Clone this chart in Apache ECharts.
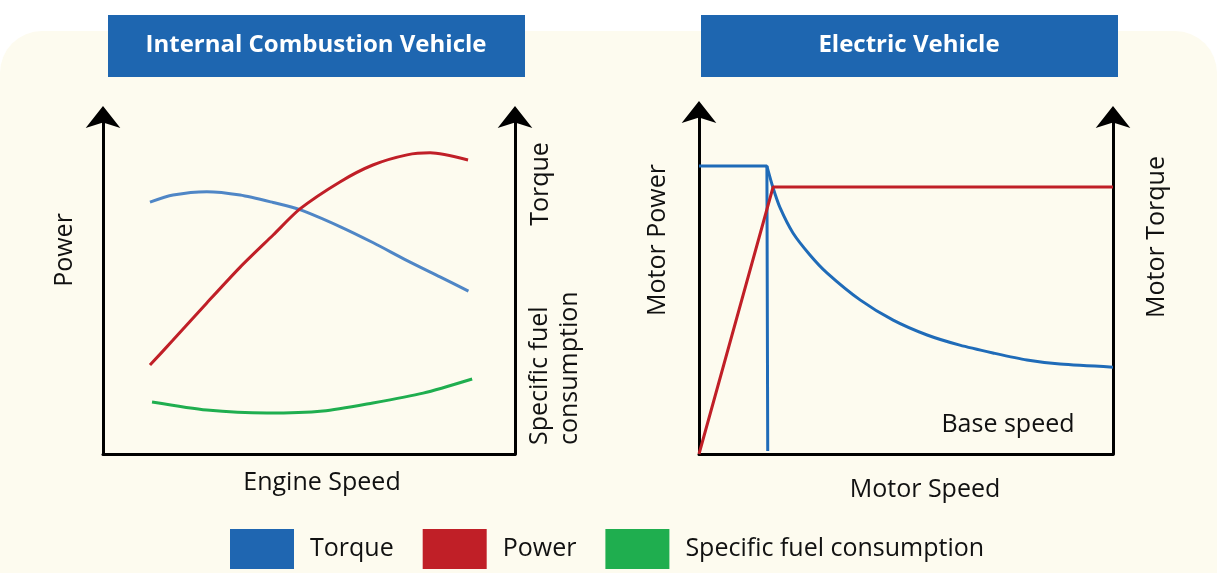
<!DOCTYPE html>
<html>
<head>
<meta charset="utf-8">
<title>ICE vs EV characteristics</title>
<script src="https://cdn.jsdelivr.net/npm/echarts@6/dist/echarts.min.js"></script>
<style>
  html, body { margin: 0; padding: 0; background: #fff; }
  #chart { width: 1217px; height: 573px; }
</style>
</head>
<body>
<div id="chart"></div>
<script>
// left panel: internal combustion vehicle (x = engine speed, 0-100)
var iceTorque = [[11.4, 74.5], [17.0, 76.6], [25.2, 77.6], [33.3, 76.6], [41.3, 74.4], [47.8, 72.3],
  [57.5, 67.3], [65.6, 62.5], [73.7, 57.3], [81.8, 52.4], [88.7, 48.2]];
var icePower = [[11.4, 26.3], [17.0, 33.7], [25.2, 44.7], [33.3, 55.3], [41.3, 64.8], [47.8, 72.5],
  [57.5, 80.5], [65.5, 85.5], [73.8, 88.5], [79.4, 89.1], [88.6, 87.0]];
var iceFuel = [[11.9, 15.4], [25.2, 13.0], [39.8, 12.1], [53.4, 12.7], [65.5, 15.1], [77.7, 18.0], [89.6, 22.2]];

// right panel: electric vehicle (x = motor speed, 0-100)
var evTorqueFlat = [[0, 85.2], [16.4, 85.2], [16.6, 85.2], [16.6, 0.9]];
var evTorqueCurve = [[16.4, 85.2], [17.9, 78.7], [19.6, 72.8], [22.7, 65.4], [26.8, 58.9], [30.9, 53.6],
  [38.9, 45.6], [46.9, 39.6], [55.1, 35.2], [63.0, 32.2], [71.0, 29.9], [79.2, 27.8], [87.2, 26.6], [100, 25.7]];
var evPower = [[0, 0], [17.9, 79.0], [100, 79.0]];

var legendNames = ['Torque', 'Power', 'Specific fuel consumption'];
var legendColors = ['#1f66b1', '#c01f27', '#1fae4f'];

var font = 'Open Sans';
var chart = echarts.init(document.getElementById('chart'));

function xAx(grid) {
  return {
    gridIndex: grid, type: 'value', min: 0, max: 100,
    axisLine: { show: true, onZero: false, lineStyle: { color: '#000', width: 3 } },
    axisTick: { show: false }, axisLabel: { show: false }, splitLine: { show: false }
  };
}
function yAx(grid, pos, off) {
  return {
    gridIndex: grid, type: 'value', min: 0, max: 100, position: pos,
    axisLine: { show: true, onZero: false, symbol: ['none', 'arrow'], symbolSize: [26, 22],
      symbolOffset: [0, off], lineStyle: { color: '#000', width: 3 } },
    axisTick: { show: false }, axisLabel: { show: false }, splitLine: { show: false }
  };
}
function line(name, data, color, xi, yi, smooth) {
  return {
    name: name, type: 'line', data: data, xAxisIndex: xi, yAxisIndex: yi,
    smooth: smooth, showSymbol: false, symbol: 'none', silent: true,
    lineStyle: { color: color, width: 3 }, itemStyle: { color: color }
  };
}
function vtext(x, y, txt, align) {
  return {
    type: 'text', x: x, y: y, rotation: Math.PI / 2,
    style: { text: txt, fontFamily: font, fontSize: 25, fill: '#111', align: align || 'center',
      verticalAlign: 'middle', lineHeight: 30 }
  };
}
function htext(x, y, txt) {
  return {
    type: 'text', x: x, y: y,
    style: { text: txt, fontFamily: font, fontSize: 25, fill: '#111', align: 'center', verticalAlign: 'middle' }
  };
}
function titleBox(x, txt) {
  return {
    type: 'group', children: [
      { type: 'rect', shape: { x: x, y: 15, width: 417, height: 62 }, style: { fill: '#1e66b0' } },
      { type: 'text', x: x + 208, y: 45,
        style: { text: txt, fontFamily: font, fontWeight: 'bold', fontSize: 24, fill: '#fff',
          align: 'center', verticalAlign: 'middle' } }
    ]
  };
}

var option = {
  backgroundColor: '#fff',
  animation: false,
  grid: [
    { left: 103, top: 116, width: 412, height: 338 },
    { left: 699, top: 116, width: 414, height: 338 }
  ],
  xAxis: [xAx(0), xAx(1)],
  yAxis: [yAx(0, 'left', 10), yAx(0, 'right', 10), yAx(1, 'left', 15), yAx(1, 'right', 10)],
  legend: {
    left: 225, top: 524, itemWidth: 64, itemHeight: 40, itemGap: 29, icon: 'rect',
    selectedMode: false,
    textStyle: { fontFamily: font, fontSize: 25, color: '#111', padding: [0, 0, 0, 11] },
    data: legendNames.map(function (n, i) { return { name: n, itemStyle: { color: legendColors[i] } }; })
  },
  series: [
    line('Torque', iceTorque, '#4f86c6', 0, 0, 0.25),
    line('Power', icePower, '#c01f27', 0, 0, 0.25),
    line('Specific fuel consumption', iceFuel, '#1fae4f', 0, 0, 0.25),
    line('Torque', evTorqueFlat, '#1f6bb8', 1, 2, false),
    line('Torque', evTorqueCurve, '#1f6bb8', 1, 2, 0.25),
    line('Power', evPower, '#c01f27', 1, 2, false)
  ],
  graphic: [
    { type: 'rect', z: -10, shape: { x: 0, y: 31, width: 1217, height: 600, r: 42 }, style: { fill: '#fdfbef' } },
    titleBox(108, 'Internal Combustion Vehicle'),
    titleBox(701, 'Electric Vehicle'),
    vtext(65, 250, 'Power'),
    vtext(541, 184, 'Torque'),
    vtext(555, 445, 'Specific fuel\nconsumption', 'left'),
    vtext(658, 240, 'Motor Power'),
    vtext(1157, 237, 'Motor Torque'),
    htext(322, 483, 'Engine Speed'),
    htext(925, 490, 'Motor Speed'),
    htext(1008, 425, 'Base speed')
  ]
};
chart.setOption(option);
</script>
</body>
</html>
